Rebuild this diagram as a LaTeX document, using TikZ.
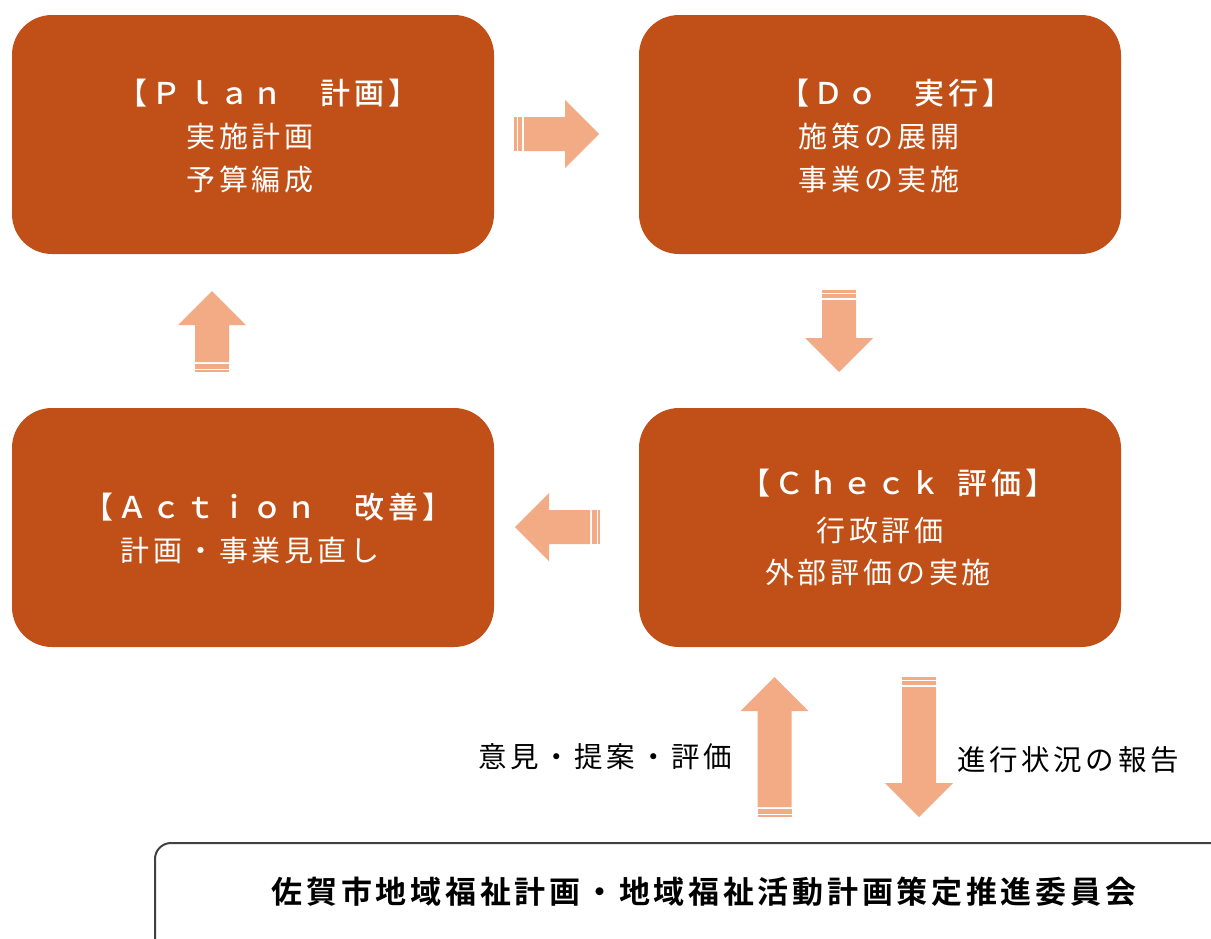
\documentclass[tikz,border=0pt]{standalone}
\usepackage{fontspec}
\newfontfamily\jp{Noto Sans CJK JP}[LetterSpace=13]
\newfontfamily\jpt{Noto Sans CJK JP Medium}[LetterSpace=13]
\newfontfamily\jpb{Noto Sans CJK JP Bold}[LetterSpace=12]
\definecolor{boxorange}{HTML}{C05018}
\definecolor{arrowpeach}{HTML}{F2AB84}
\definecolor{framegray}{HTML}{404040}
\tikzset{
  phasebox/.style={fill=boxorange, draw=none, rounded corners=40pt,
    minimum width=482pt, minimum height=239pt, inner sep=0pt},
  boxtext/.style={text=white, inner sep=0pt, font=\jp\fontsize{29}{32}\selectfont},
  boxtitle/.style={text=white, inner sep=0pt, font=\jpt\fontsize{30}{32}\selectfont},
  sidelabel/.style={text=black, inner sep=0pt, font=\jp\fontsize{28.5}{32}\selectfont},
  committeebox/.style={draw=framegray, line width=2pt, fill=white, rounded corners=16pt,
    minimum width=1085pt, minimum height=127pt, inner sep=0pt},
  committeetext/.style={text=black, inner sep=0pt, font=\jpb\fontsize{31}{34}\selectfont},
}
% striped block arrow: #1 tail point, #2 rotation, #3 length
\newcommand{\stripedarrow}[3]{%
  \begin{scope}[shift={(#1)}, rotate=#2]
    \fill[arrowpeach] (0,-17) rectangle (2.5,17);
    \fill[arrowpeach] (3.5,-17) rectangle (8,17);
    \fill[arrowpeach] (10,-17) -- ({#3-34},-17) -- ({#3-34},-34) -- (#3,0)
      -- ({#3-34},34) -- ({#3-34},17) -- (10,17) -- cycle;
  \end{scope}}
\begin{document}
\begin{tikzpicture}[x=1pt, y=-1pt]
  \clip (0,0) rectangle (1211,938);
  \fill[white] (0,0) rectangle (1211,938);

  % phase boxes
  \node[phasebox] (plan) at (253,134.5) {};
  \node[phasebox] (do) at (880,134.5) {};
  \node[phasebox] (act) at (253,527.5) {};
  \node[phasebox] (chk) at (880,527.5) {};

  % texts
  \node[boxtitle] (plantitle) at (268,93) {【Ｐｌａｎ　計画】};
  \node[boxtext] (plan1) at (250,136) {実施計画};
  \node[boxtext] (plan2) at (250,180) {予算編成};

  \node[boxtitle] (dotitle) at (896,93) {【Ｄｏ　実行】};
  \node[boxtext] (do1) at (879,136) {施策の展開};
  \node[boxtext] (do2) at (879,180) {事業の実施};

  \node[boxtitle] (acttitle) at (268,507) {【Ａｃｔｉｏｎ　改善】};
  \node[boxtext] (act1) at (250,550) {計画・事業見直し};

  \node[boxtitle] (chktitle) at (898,483) {【Ｃｈｅｃｋ\hspace{17pt}評価】};
  \node[boxtext] (chk1) at (880,530) {行政評価};
  \node[boxtext] (chk2) at (878,572) {外部評価の実施};

  % cycle arrows
  \stripedarrow{514,134}{0}{85}
  \stripedarrow{839,290}{-90}{82}
  \stripedarrow{600,527}{180}{85}
  \stripedarrow{212,372}{90}{81}

  % committee
  \node[committeebox] (com) at (697.5,906.5) {};
  \node[committeetext] (comtext) at (704,892) {佐賀市地域福祉計画・地域福祉活動計画策定推進委員会};

  % exchange arrows
  \stripedarrow{774.5,817}{90}{140}
  \stripedarrow{919,677}{-90}{140}
  \node[sidelabel] (opinion) at (605,757) {意見・提案・評価};
  \node[sidelabel] (report) at (1068,760) {進行状況の報告};
\end{tikzpicture}
\end{document}
